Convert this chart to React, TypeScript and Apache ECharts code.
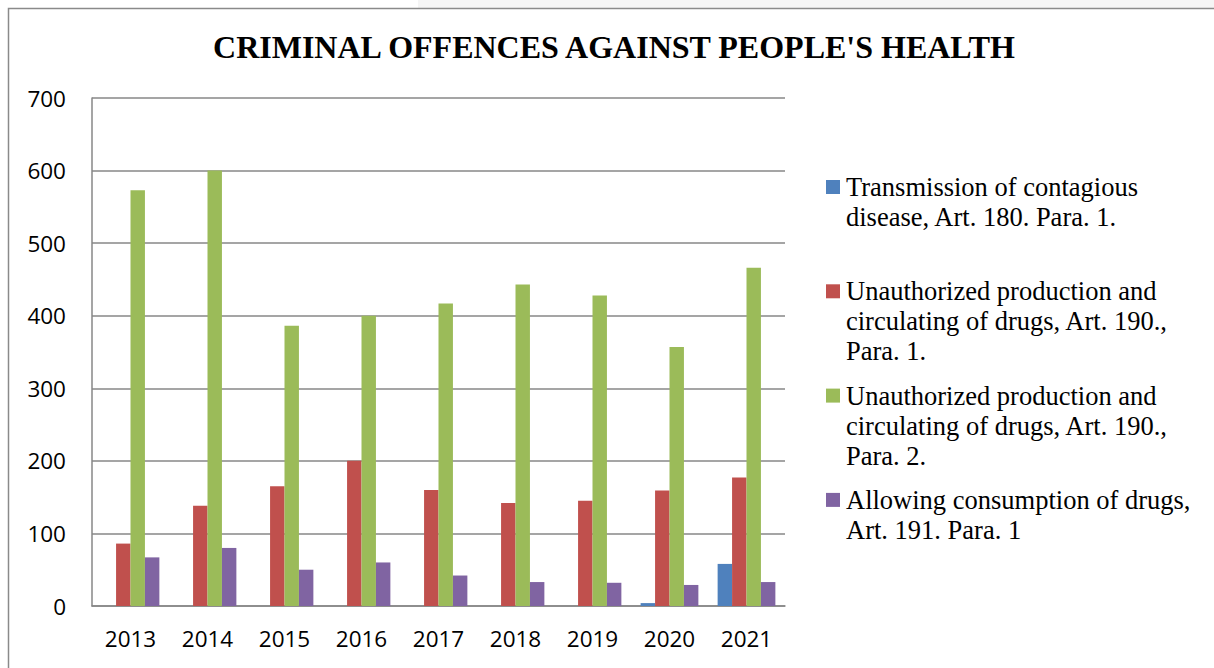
import React, { useEffect, useRef } from "react";
import * as echarts from "echarts";

const years = ["2013", "2014", "2015", "2016", "2017", "2018", "2019", "2020", "2021"];
const transmission = [0, 0, 0, 0, 0, 0, 0, 4, 58];
const productionPara1 = [86, 138, 165, 200, 160, 142, 145, 159, 177];
const productionPara2 = [573, 600, 386, 400, 417, 443, 428, 357, 466];
const consumption = [67, 80, 50, 60, 42, 33, 32, 29, 33];

const seriesNames = [
  "Transmission of contagious disease, Art. 180. Para. 1.",
  "Unauthorized production and circulating of drugs, Art. 190., Para. 1.",
  "Unauthorized production and circulating of drugs, Art. 190., Para. 2.",
  "Allowing consumption of drugs, Art. 191. Para. 1",
];
const legendLabels = [
  "Transmission of contagious\ndisease, Art. 180. Para. 1.",
  "Unauthorized production and\ncirculating of drugs, Art. 190.,\nPara. 1.",
  "Unauthorized production and\ncirculating of drugs, Art. 190.,\nPara. 2.",
  "Allowing consumption of drugs,\nArt. 191. Para. 1",
];
const colors = ["#4F81BD", "#C0504D", "#9BBB59", "#8064A2"];
const seriesData = [transmission, productionPara1, productionPara2, consumption];
const yTicks = { min: 0, max: 700, interval: 100 };
const title = "CRIMINAL OFFENCES AGAINST PEOPLE'S HEALTH";

export default function App() {
  const ref = useRef<HTMLDivElement>(null);
  useEffect(() => {
    if (!ref.current) return;
    const chart = echarts.init(ref.current, undefined, { renderer: "svg" });
    const serif = "'Liberation Serif', 'Times New Roman', serif";
    const sans = "'Open Sans', 'Noto Sans', sans-serif";
    const legendGraphics: any[] = [];
    seriesNames.forEach((_, i) => {
      const cy = 187 + i * 104.3;
      legendGraphics.push({
        type: "rect",
        shape: { x: 826, y: cy - 7, width: 14, height: 14 },
        style: { fill: colors[i] },
        silent: true,
      });
      legendGraphics.push({
        type: "text",
        x: 846,
        y: cy - 15,
        style: {
          text: legendLabels[i],
          font: `26.5px ${serif}`,
          lineHeight: 30,
          fill: "#000",
          verticalAlign: "top",
          align: "left",
        },
        silent: true,
      });
    });
    chart.setOption({
      animation: false,
      backgroundColor: "#fff",
      grid: { left: 92, right: 429, top: 98, bottom: 62, containLabel: false },
      xAxis: {
        type: "category",
        data: years,
        axisLine: { show: true, lineStyle: { color: "#878787", width: 1.5 } },
        axisTick: { show: false },
        axisLabel: { fontFamily: sans, fontSize: 22.5, color: "#000", margin: 21 },
      },
      yAxis: {
        type: "value",
        min: yTicks.min,
        max: yTicks.max,
        interval: yTicks.interval,
        axisLine: { show: true, lineStyle: { color: "#878787", width: 1.5 } },
        axisTick: { show: false },
        splitLine: { show: true, lineStyle: { color: "#878787", width: 1.5 } },
        axisLabel: { fontFamily: sans, fontSize: 22.5, color: "#000", margin: 26 },
      },
      series: seriesNames.map((name, i) => ({
        name,
        type: "bar",
        data: seriesData[i],
        barGap: "0%",
        barCategoryGap: "25%",
        itemStyle: { color: colors[i] },
      })),
      graphic: [
        {
          type: "rect",
          shape: { x: 418, y: 0, width: 800, height: 8 },
          style: { fill: "#f5f5f5" },
          silent: true,
        },
        {
          type: "rect",
          shape: { x: 8.5, y: 8.5, width: 1300, height: 700 },
          style: { fill: "none", stroke: "#8a8a8a", lineWidth: 1.5 },
          silent: true,
        },
        {
          type: "text",
          x: 614,
          y: 47,
          style: {
            text: title,
            font: `bold 32px ${serif}`,
            fill: "#000",
            align: "center",
            verticalAlign: "middle",
          },
          silent: true,
        },
        ...legendGraphics,
      ],
    });
    return () => chart.dispose();
  }, []);
  return (
    <div
      ref={ref}
      style={{ position: "fixed", left: 0, top: 0, width: 1214, height: 668 }}
    />
  );
}
